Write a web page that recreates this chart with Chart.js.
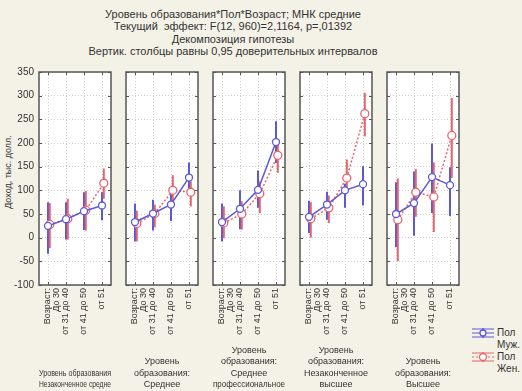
<!DOCTYPE html>
<html>
<head>
<meta charset="utf-8">
<script src="https://cdn.jsdelivr.net/npm/chart.js@4.4.1/dist/chart.umd.min.js"></script>
<style>
  body { margin: 0; background: #f4f1e6; }
  #wrap { position: relative; width: 522px; height: 391px; overflow: hidden; background: #f4f1e6;
          font-family: "Liberation Sans", Arial, sans-serif; color: #333; }
  .cv { position: absolute; top: 60px; }
  #head { position: absolute; left: 0; width: 466px; top: 8px; text-align: center; font-size: 11px; line-height: 12.3px; }
  #ylab { position: absolute; left: 8px; top: 172px; font-size: 9px; white-space: nowrap;
          transform: translate(-50%, -50%) rotate(-90deg); }
  .lg { position: absolute; left: 497px; font-size: 10px; line-height: 12px; }
  .ic { position: absolute; left: 472px; }
</style>
</head>
<body>
<div id="wrap">
  <div id="head">Уровень образования*Пол*Возраст; МНК средние<br>Текущий&nbsp; эффект: F(12, 960)=2,1164, p=,01392<br>Декомпозиция гипотезы<br>Вертик. столбцы равны 0,95 доверительных интервалов</div>
  <div id="ylab">Доход, тыс. долл.</div>
  <svg class="ic" style="top:327px" width="22" height="12"><line x1="0" y1="2" x2="22" y2="2" stroke="#5a5ad8"/><line x1="0" y1="10" x2="22" y2="10" stroke="#5a5ad8"/><line x1="0" y1="6" x2="22" y2="6" stroke="#5a5ad8"/><line x1="11" y1="1" x2="11" y2="11" stroke="#5a5ad8" stroke-width="1.5"/><circle cx="11" cy="6" r="3" fill="#fff" stroke="#5a5ad8" stroke-width="1.3"/></svg>
  <div class="lg" style="top:327px">Пол<br>Муж.</div>
  <svg class="ic" style="top:351px" width="22" height="12"><line x1="0" y1="2" x2="22" y2="2" stroke="#e8646c"/><line x1="0" y1="10" x2="22" y2="10" stroke="#e8646c"/><line x1="0" y1="6" x2="22" y2="6" stroke="#e8646c" stroke-dasharray="2,2"/><line x1="11" y1="1" x2="11" y2="11" stroke="#e8646c" stroke-width="1.5"/><circle cx="11" cy="6" r="3.5" fill="#fff" stroke="#e8646c" stroke-width="1.3"/></svg>
  <div class="lg" style="top:351px">Пол<br>Жен.</div>
</div>
<script>
// age groups (x ticks) and education levels (panels)
const ageLabels = [["Возраст:", "До 30", ""], "от 31 до 40", "от 41 до 50", "от 51"];
const panelTitles = [
  ["Уровень образования", "Незаконченное средне"],
  ["Уровень", "образования:", "Среднее"],
  ["Уровень", "образования:", "Среднее", "профессиональное"],
  ["Уровень", "образования:", "Незаконченное", "высшее"],
  ["Уровень", "образования:", "Высшее"]
];
const yTicks = [-100, 350, 50];

// LS means, thousand $, one row per education level
const maleMean = [[25, 39, 56, 68], [33, 51, 70, 127], [33, 61, 101, 202], [44, 70, 100, 113], [50, 73, 128, 111]];
const maleLow  = [[-34, -4, 16, 37], [-8, 15, 35, 96], [-8, 18, 63, 158], [10, 38, 63, 68], [-20, 4, 52, 46]];
const maleHigh = [[75, 75, 96, 96], [72, 80, 99, 159], [72, 100, 142, 246], [78, 97, 114, 151], [117, 140, 199, 149]];
const femaleMean = [[28, 40, 58, 115], [30, 51, 100, 96], [31, 50, 93, 174], [40, 63, 126, 262], [38, 96, 86, 216]];
const femaleLow  = [[-22, -4, 15, 82], [-8, 22, 73, 66], [-1, 17, 52, 137], [0, 31, 98, 214], [-50, 44, 12, 126]];
const femaleHigh = [[73, 82, 99, 146], [57, 70, 132, 119], [66, 77, 119, 207], [75, 89, 165, 306], [125, 145, 159, 295]];

const blue = "#5a5ad8";
const red = "#e8646c";
const shift = 0.1; // small dodge of the female series
const panelLeft = [39, 126, 213, 300, 387];
const panelW = 72;

const panelPlugin = {
  id: "panel",
  beforeDraw(chart) {
    const a = chart.chartArea, c = chart.ctx;
    c.save(); c.fillStyle = "#ffffff"; c.fillRect(a.left, a.top, a.right - a.left, a.bottom - a.top); c.restore();
  },
  beforeDatasetsDraw(chart) { // error bars
    const c = chart.ctx, xs = chart.scales.x, ys = chart.scales.y;
    chart.data.datasets.forEach(ds => {
      c.save();
      c.setLineDash([]);
      c.strokeStyle = ds.borderColor; c.lineWidth = 2;
      ds.data.forEach((p, i) => {
        const x = xs.getPixelForValue(p.x);
        c.beginPath();
        c.moveTo(x, ys.getPixelForValue(ds.low[i]));
        c.lineTo(x, ys.getPixelForValue(ds.high[i]));
        c.stroke();
      });
      c.restore();
    });
  },
  afterDraw(chart) { // frame and inner tick marks
    const a = chart.chartArea, c = chart.ctx, xs = chart.scales.x, ys = chart.scales.y;
    c.save();
    c.setLineDash([]);
    c.strokeStyle = "#555"; c.lineWidth = 1;
    ys.ticks.forEach(t => {
      const y = Math.round(ys.getPixelForValue(t.value)) + 0.5;
      c.beginPath(); c.moveTo(a.left, y); c.lineTo(a.left + 3, y); c.moveTo(a.right, y); c.lineTo(a.right - 3, y); c.stroke();
    });
    xs.ticks.forEach(t => {
      const x = Math.round(xs.getPixelForValue(t.value)) + 0.5;
      c.beginPath(); c.moveTo(x, a.top); c.lineTo(x, a.top + 3); c.moveTo(x, a.bottom); c.lineTo(x, a.bottom - 3); c.stroke();
    });
    c.lineWidth = 1.5;
    c.strokeRect(a.left, a.top, a.right - a.left, a.bottom - a.top);
    c.restore();
  }
};

const wrap = document.getElementById("wrap");
for (let p = 0; p < 5; p++) {
  const first = p === 0;
  const left = first ? 0 : panelLeft[p] - 8;
  const width = panelLeft[p] + panelW + 6 - left;
  const cv = document.createElement("canvas");
  cv.className = "cv";
  cv.style.left = left + "px";
  cv.width = width; cv.height = 331;
  cv.style.width = width + "px"; cv.style.height = "331px";
  wrap.appendChild(cv);

  const male = maleMean[p].map((v, i) => ({ x: i, y: v }));
  const female = femaleMean[p].map((v, i) => ({ x: i + shift, y: v }));

  new Chart(cv.getContext("2d"), {
    type: "line",
    data: {
      datasets: [
        { label: "Пол Муж.", data: male, low: maleLow[p], high: maleHigh[p], borderColor: blue, borderWidth: 1.5,
          pointRadius: 3.5, pointBackgroundColor: "#fff", pointBorderColor: blue, pointBorderWidth: 1.3 },
        { label: "Пол Жен.", data: female, low: femaleLow[p], high: femaleHigh[p], borderColor: red, borderWidth: 1.5,
          borderDash: [2, 2], pointRadius: 4, pointBackgroundColor: "#fff", pointBorderColor: red, pointBorderWidth: 1.3 }
      ]
    },
    options: {
      responsive: false,
      animation: false,
      devicePixelRatio: 1,
      layout: { padding: { top: 12, left: first ? 0 : 8, right: 6, bottom: 0 } },
      plugins: { legend: { display: false }, tooltip: { enabled: false } },
      scales: {
        x: {
          type: "linear", min: -0.5, max: 3.5,
          afterBuildTicks: s => { s.ticks = ageLabels.map((l, i) => ({ value: i })); },
          afterFit: s => { s.height = 106; },
          grid: { color: "#cfcfcf", drawTicks: false },
          border: { display: false, dash: [1, 2] },
          ticks: { autoSkip: false, maxRotation: 90, minRotation: 90, padding: 3, color: "#333",
                   font: { family: "Liberation Sans", size: 9, lineHeight: 1 }, callback: v => ageLabels[v] },
          title: { display: true, text: panelTitles[p], color: "#333", padding: { top: 0, bottom: 1 },
                   font: { family: "Liberation Sans", size: 9, lineHeight: 1.25 } }
        },
        y: {
          min: yTicks[0], max: yTicks[1],
          afterFit: s => { s.width = first ? 39 : 0; },
          grid: { color: "#cfcfcf", drawTicks: false },
          border: { display: false, dash: [1, 2] },
          ticks: { display: first, stepSize: yTicks[2], padding: 5, color: "#333",
                   font: { family: "Liberation Sans", size: 10 } }
        }
      }
    },
    plugins: [panelPlugin]
  });
}
</script>
</body>
</html>
